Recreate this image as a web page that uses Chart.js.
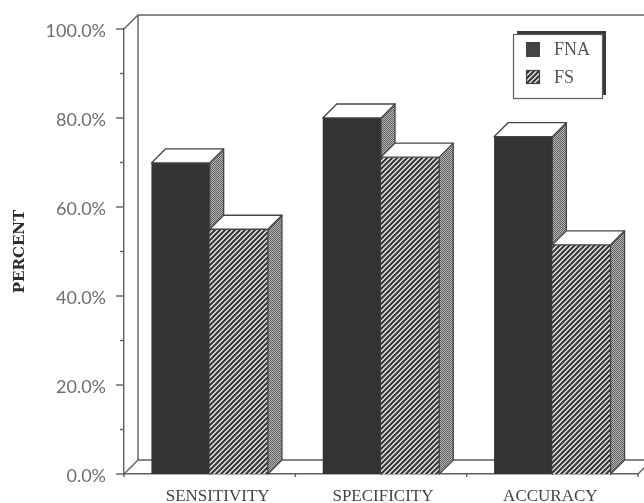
<!DOCTYPE html>
<html>
<head>
<meta charset="utf-8">
<style>
  html, body { margin: 0; padding: 0; background: #fff; }
  #wrap { width: 644px; height: 503px; }
</style>
<script src="https://cdn.jsdelivr.net/npm/chart.js@4/dist/chart.umd.js"></script>
</head>
<body>
<div id="wrap"><canvas id="chart"></canvas></div>
<script>
const categories = ['SENSITIVITY', 'SPECIFICITY', 'ACCURACY'];
const fnaValues = [69.9, 80.0, 75.8];
const fsValues = [55.0, 71.2, 51.5];
const seriesNames = ['FNA', 'FS'];
const labelledTicks = [0, 20, 40, 60, 80, 100];

// depth of the fake 3D box, in pixels
const DEPTH = 14;
const INK = '#5f5f5f';
const DARK = '#333333';
// the scanned x labels do not sit exactly under the groups
const labelNudge = [8, 2, -2];

function hatchPattern() {
    const c = document.createElement('canvas');
    c.width = 5; c.height = 5;
    const g = c.getContext('2d');
    g.fillStyle = '#ececec'; g.fillRect(0, 0, 5, 5);
    g.strokeStyle = '#383838'; g.lineWidth = 2.2;
    g.beginPath();
    g.moveTo(-1, 1); g.lineTo(1, -1);
    g.moveTo(-1, 6); g.lineTo(6, -1);
    g.moveTo(4, 6); g.lineTo(6, 4);
    g.stroke();
    return g.createPattern(c, 'repeat');
}

function stipplePattern() {
    const c = document.createElement('canvas');
    c.width = 2; c.height = 2;
    const g = c.getContext('2d');
    g.fillStyle = '#b8b8b8'; g.fillRect(0, 0, 2, 2);
    g.fillStyle = '#5c5c5c'; g.fillRect(0, 0, 1, 1); g.fillRect(1, 1, 1, 1);
    return g.createPattern(c, 'repeat');
}

const hatch = hatchPattern();
const stipple = stipplePattern();

function poly(ctx, pts, fill) {
    ctx.beginPath();
    pts.forEach((p, i) => i ? ctx.lineTo(p[0], p[1]) : ctx.moveTo(p[0], p[1]));
    ctx.closePath();
    if (fill) { ctx.fillStyle = fill; ctx.fill(); }
    ctx.stroke();
}

const box3d = {
    id: 'box3d',
    // back walls and floor, behind the bars
    beforeDatasetsDraw(chart) {
        const { ctx, scales: { x, y } } = chart;
        const top = y.getPixelForValue(100), base = y.getPixelForValue(0);
        ctx.save();
        ctx.strokeStyle = INK; ctx.lineWidth = 1.4;
        ctx.beginPath();
        ctx.moveTo(x.left, top); ctx.lineTo(x.left + DEPTH, top - DEPTH); ctx.lineTo(chart.width, top - DEPTH);
        ctx.moveTo(x.left + DEPTH, top - DEPTH); ctx.lineTo(x.left + DEPTH, base - DEPTH); ctx.lineTo(chart.width, base - DEPTH);
        ctx.moveTo(x.left, base); ctx.lineTo(x.left + DEPTH, base - DEPTH);
        ctx.moveTo(x.right, base); ctx.lineTo(x.right + DEPTH, base - DEPTH);
        ctx.stroke();
        // y ticks, short ones between the labelled values
        y.ticks.forEach(t => {
            const py = y.getPixelForValue(t.value);
            const len = labelledTicks.includes(t.value) ? 8 : 4;
            ctx.beginPath(); ctx.moveTo(y.right - len, py); ctx.lineTo(y.right, py); ctx.stroke();
        });
        // x ticks at the category edges
        const step = x.width / categories.length;
        for (let i = 0; i <= categories.length; i++) {
            const px = x.left + step * i;
            ctx.beginPath(); ctx.moveTo(px, base); ctx.lineTo(px, base + 3); ctx.stroke();
        }
        ctx.restore();
    },
    // top and side faces. FS front is redrawn so that it covers the side of FNA
    afterDatasetsDraw(chart) {
        const { ctx } = chart;
        const base = chart.scales.y.getPixelForValue(0);
        ctx.save();
        ctx.strokeStyle = '#444444'; ctx.lineWidth = 1.3; ctx.lineJoin = 'round';
        [0, 1].forEach(ds => {
            chart.getDatasetMeta(ds).data.forEach(bar => {
                const l = bar.x - bar.width / 2, r = bar.x + bar.width / 2, t = bar.y;
                if (ds === 1) bar.draw(ctx);
                poly(ctx, [[r, t], [r + DEPTH, t - DEPTH], [r + DEPTH, base - DEPTH], [r, base]], stipple);
                poly(ctx, [[l, t], [l + DEPTH, t - DEPTH], [r + DEPTH, t - DEPTH], [r, t]], '#ffffff');
            });
        });
        ctx.restore();
    },
    afterDraw(chart) {
        const { ctx, scales: { x } } = chart;
        ctx.save();
        // category labels
        ctx.fillStyle = '#444444';
        ctx.font = '17px "Liberation Serif"';
        ctx.textAlign = 'center'; ctx.textBaseline = 'middle';
        categories.forEach((c, i) => ctx.fillText(c, x.getPixelForValue(i) + labelNudge[i], 497));
        // legend with its drop shadow
        ctx.fillStyle = '#3a3a3a'; ctx.fillRect(517, 31, 89, 64);
        ctx.fillStyle = '#ffffff'; ctx.strokeStyle = INK; ctx.lineWidth = 1.2;
        ctx.fillRect(513.5, 34.5, 89, 64); ctx.strokeRect(513.5, 34.5, 89, 64);
        ctx.fillStyle = '#444444'; ctx.fillRect(526, 42, 14, 15);
        ctx.fillStyle = hatch; ctx.fillRect(526, 70, 14, 14);
        ctx.strokeStyle = '#444444'; ctx.strokeRect(526.5, 70.5, 13, 13);
        ctx.fillStyle = '#555555';
        ctx.font = '18px "Liberation Serif"';
        ctx.textAlign = 'left';
        seriesNames.forEach((n, i) => ctx.fillText(n, 554, 50 + i * 28));
        ctx.restore();
    }
};

new Chart(document.getElementById('chart'), {
    type: 'bar',
    data: {
        labels: categories,
        datasets: [
            { label: seriesNames[0], data: fnaValues, backgroundColor: DARK },
            { label: seriesNames[1], data: fsValues, backgroundColor: hatch }
        ]
    },
    plugins: [box3d],
    options: {
        responsive: true,
        maintainAspectRatio: false,
        animation: false,
        layout: { padding: { top: 29, right: 6, left: 0, bottom: 0 } },
        plugins: { legend: { display: false }, tooltip: { enabled: false } },
        datasets: { bar: { categoryPercentage: 0.68, barPercentage: 1 } },
        scales: {
            x: {
                afterFit: s => { s.height = 29; },
                grid: { display: false },
                border: { color: INK, width: 1.4 },
                ticks: { display: false }
            },
            y: {
                min: 0,
                max: 100,
                afterFit: s => { s.width = 124; },
                grid: { display: false, drawTicks: false },
                border: { color: INK, width: 1.4 },
                ticks: {
                    stepSize: 10,
                    padding: 18,
                    labelOffset: 2,
                    color: '#6e6e6e',
                    font: { family: 'Lato', size: 18 },
                    autoSkip: false,
                    callback: v => labelledTicks.includes(v) ? v.toFixed(1) + '%' : ''
                },
                title: {
                    display: true,
                    text: 'PERCENT',
                    color: '#2e2e2e',
                    font: { family: 'DejaVu Serif', size: 15, weight: 'bold' },
                    padding: { top: 11, bottom: 0 }
                }
            }
        }
    }
});
</script>
</body>
</html>
